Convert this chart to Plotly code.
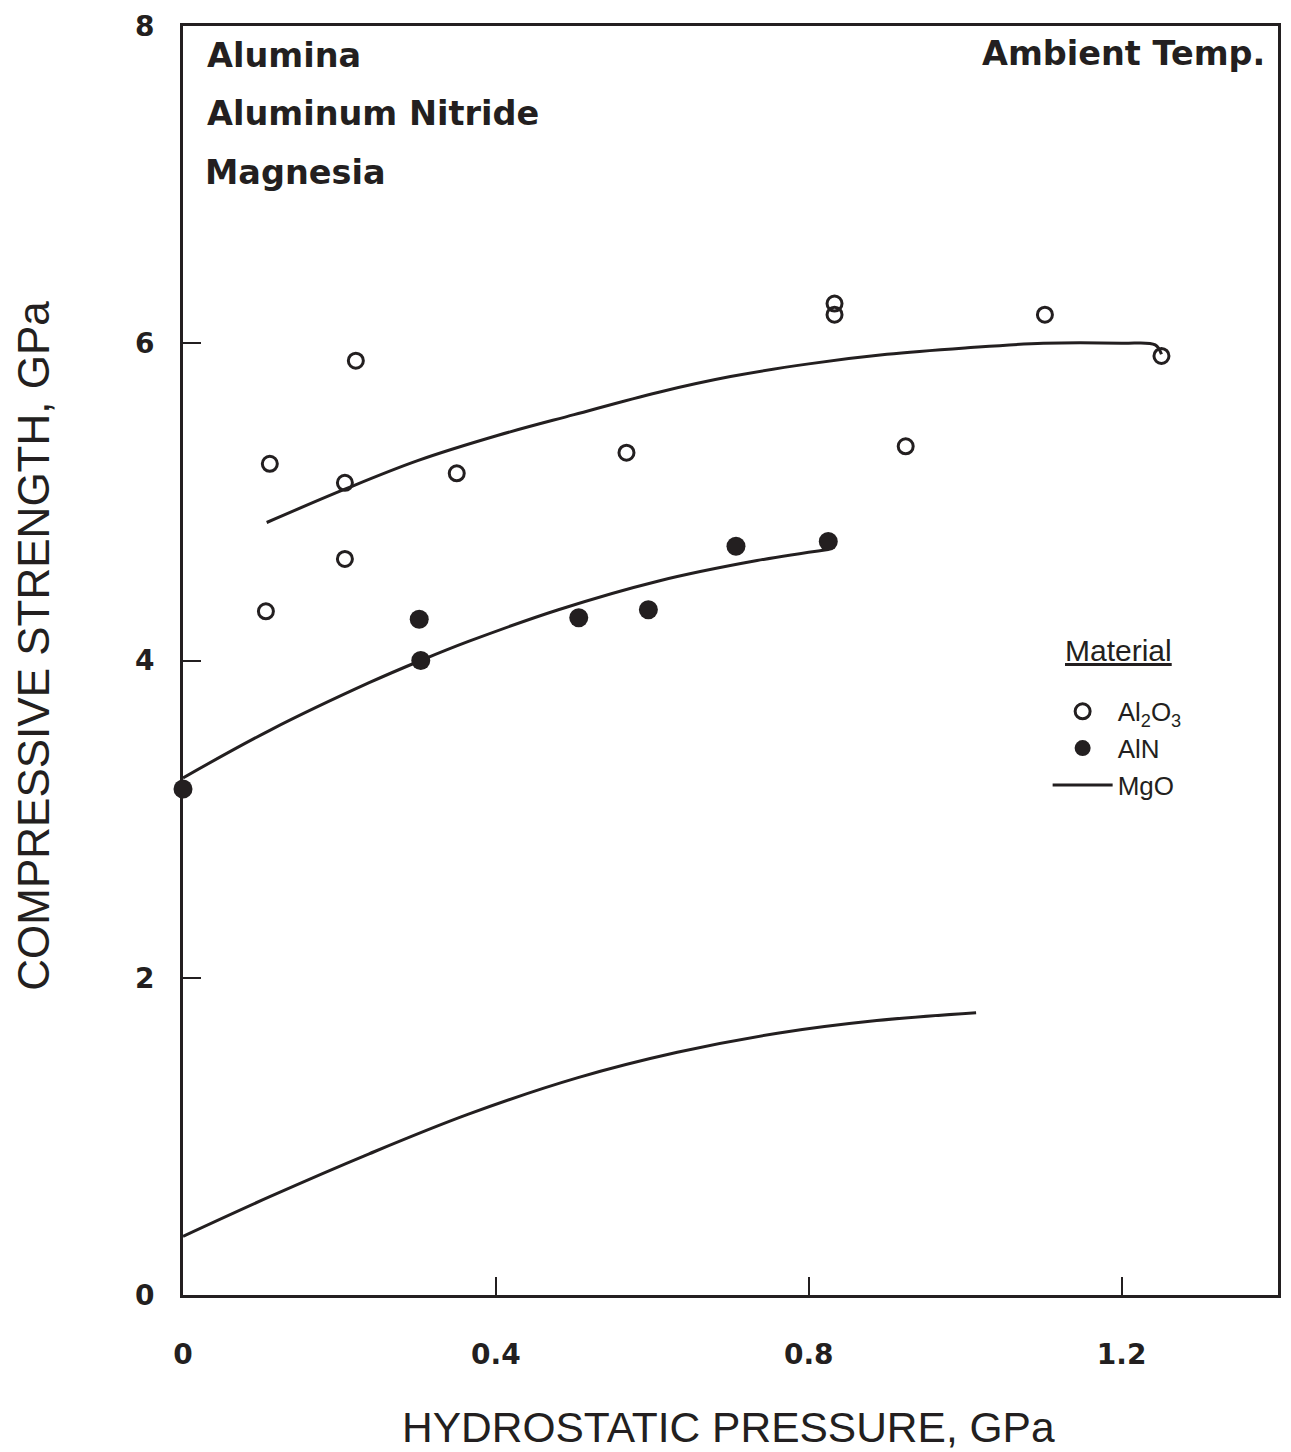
import plotly.graph_objects as go

# ---- data ----
al2o3_x = [0.106, 0.111, 0.207, 0.207, 0.221, 0.350, 0.567, 0.833, 0.833, 0.924, 1.102, 1.251]
al2o3_y = [4.31, 5.24, 4.64, 5.12, 5.89, 5.18, 5.31, 6.25, 6.18, 5.35, 6.18, 5.92]

aln_x = [0.0, 0.302, 0.304, 0.506, 0.595, 0.707, 0.825]
aln_y = [3.19, 4.26, 4.00, 4.27, 4.32, 4.72, 4.75]

al2o3_fit_x = [0.107, 0.207, 0.300, 0.403, 0.500, 0.607, 0.700, 0.800, 0.900, 1.000, 1.100, 1.200, 1.243, 1.251]
al2o3_fit_y = [4.87, 5.08, 5.26, 5.42, 5.55, 5.69, 5.79, 5.87, 5.93, 5.97, 6.00, 6.00, 5.99, 5.93]

aln_fit_x = [0.0, 0.111, 0.238, 0.304, 0.365, 0.480, 0.607, 0.734, 0.825]
aln_fit_y = [3.26, 3.56, 3.86, 4.00, 4.12, 4.32, 4.50, 4.63, 4.70]

mgo_x = [0.0, 0.111, 0.238, 0.365, 0.505, 0.632, 0.760, 0.887, 1.014]
mgo_y = [0.37, 0.62, 0.89, 1.14, 1.37, 1.53, 1.65, 1.73, 1.78]

x_ticks = [0, 0.4, 0.8, 1.2]
x_tick_text = ["0", "0.4", "0.8", "1.2"]
y_ticks = [0, 2, 4, 6, 8]
y_tick_text = ["0", "2", "4", "6", "8"]

INK = "#231f20"

fig = go.Figure()

fig.add_trace(go.Scatter(
    x=al2o3_fit_x, y=al2o3_fit_y, mode="lines", showlegend=False,
    line=dict(color=INK, width=3, shape="spline", smoothing=1.0), hoverinfo="skip"))
fig.add_trace(go.Scatter(
    x=aln_fit_x, y=aln_fit_y, mode="lines", showlegend=False,
    line=dict(color=INK, width=3, shape="spline", smoothing=1.0), hoverinfo="skip"))

fig.add_trace(go.Scatter(
    x=al2o3_x, y=al2o3_y, mode="markers", name="Al<sub>2</sub>O<sub>3</sub>",
    marker=dict(symbol="circle-open", size=15, color=INK, line=dict(width=3, color=INK)),
    cliponaxis=False))
fig.add_trace(go.Scatter(
    x=aln_x, y=aln_y, mode="markers", name="AlN",
    marker=dict(symbol="circle", size=19, color=INK, line=dict(width=0)),
    cliponaxis=False))
fig.add_trace(go.Scatter(
    x=mgo_x, y=mgo_y, mode="lines", name="MgO",
    line=dict(color=INK, width=3, shape="spline", smoothing=1.0)))

axis_common = dict(
    showgrid=False, zeroline=False, showline=True, linecolor=INK, linewidth=3,
    mirror=True, ticks="inside", ticklen=18, tickwidth=2, tickcolor=INK,
    tickfont=dict(family="DejaVu Sans", size=28, color=INK, weight="bold"),
)

fig.update_xaxes(range=[0, 1.4], tickvals=x_ticks, ticktext=x_tick_text,
                 ticklabelstandoff=32, **axis_common)
fig.update_yaxes(range=[0, 8], tickvals=y_ticks, ticktext=y_tick_text,
                 ticklabelstandoff=20, **axis_common)

txt_font = dict(family="DejaVu Sans", size=33.5, color=INK, weight="bold")
annots = [
    dict(text="Alumina", x=0.020, y=0.9765, xanchor="left", yanchor="middle", font=txt_font),
    dict(text="Aluminum Nitride", x=0.020, y=0.931, xanchor="left", yanchor="middle", font=txt_font),
    dict(text="Magnesia", x=0.018, y=0.8845, xanchor="left", yanchor="middle", font=txt_font),
    dict(text="Ambient Temp.", x=(1270 - 183) / 1098, y=0.9785, xanchor="right", yanchor="middle", font=txt_font),
    dict(text="<u>Material</u>", x=(1121 - 183) / 1098, y=(1295 - 648) / 1273,
         xanchor="center", yanchor="middle",
         font=dict(family="Liberation Sans, Arial", size=30, color=INK)),
    dict(text="HYDROSTATIC PRESSURE, GPa", x=0.498, y=-0.1045, xanchor="center", yanchor="middle",
         font=dict(family="Liberation Sans, Arial", size=42.5, color=INK)),
    dict(text="COMPRESSIVE STRENGTH, GPa", x=-0.1366, y=0.512, xanchor="center", yanchor="middle",
         textangle=-90, font=dict(family="Liberation Sans, Arial", size=44, color=INK)),
]
for a in annots:
    a.update(xref="paper", yref="paper", showarrow=False)
fig.update_layout(annotations=annots)

fig.update_layout(
    width=1291, height=1452,
    margin=dict(l=183, r=10, t=22, b=157),
    paper_bgcolor="white", plot_bgcolor="white",
    showlegend=True,
    legend=dict(x=(1050 - 183) / 1098, y=(1295 - 686) / 1273, xanchor="left", yanchor="top",
                bgcolor="rgba(0,0,0,0)", borderwidth=0, tracegroupgap=0, itemwidth=60,
                font=dict(family="Liberation Sans, Arial", size=26, color=INK)),
)

fig.write_html("out.html")
